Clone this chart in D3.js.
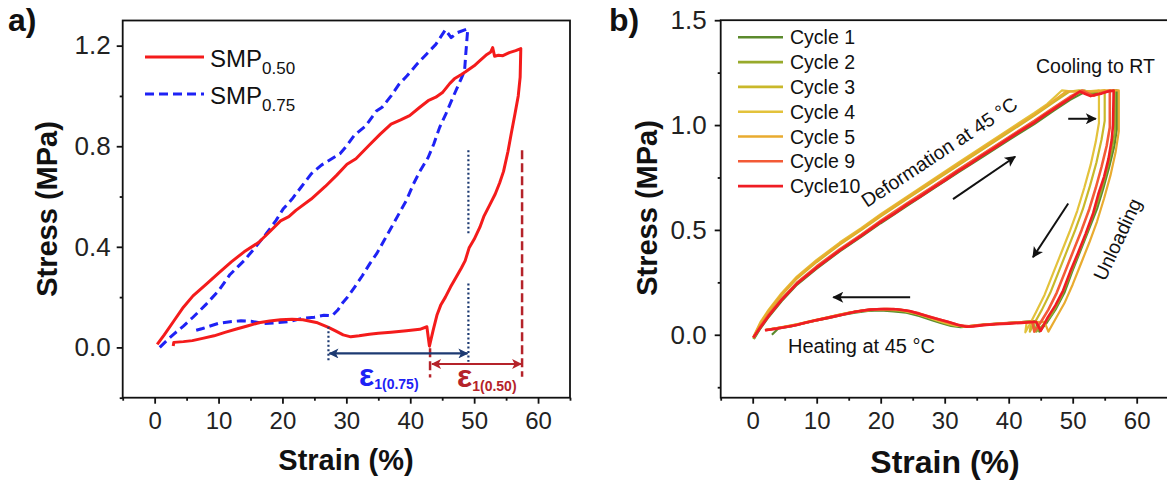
<!DOCTYPE html>
<html>
<head>
<meta charset="utf-8">
<script src="https://cdn.jsdelivr.net/npm/d3@7"></script>
<style>
  body { margin: 0; background: #fff; }
  svg { display: block; font-family: "Liberation Sans", Arial, sans-serif; }
</style>
</head>
<body>
<svg id="chart" width="1167" height="481"></svg>
<script>
// ---- panel a data: strain (%), stress (MPa)
const smp050 = [[0.4,0.012],[1.5,0.05],[3.0,0.105],[4.5,0.16],[6.0,0.205],[8.0,0.25],[10.0,0.295],[12.0,0.34],[14.0,0.38],[16.3,0.418],[18.0,0.46],[19.7,0.503],[21.0,0.52],[22.1,0.545],[24.5,0.59],[26.7,0.64],[28.5,0.685],[30.1,0.728],[31.5,0.75],[33.6,0.805],[35.3,0.848],[37.0,0.888],[38.5,0.905],[39.9,0.922],[41.5,0.955],[42.8,0.981],[44.0,0.995],[45.1,1.015],[46.2,1.05],[46.9,1.068],[48.0,1.085],[48.6,1.095],[50.0,1.12],[50.9,1.14],[52.0,1.165],[52.6,1.175],[52.9,1.192],[53.2,1.158],[53.8,1.162],[54.5,1.16],[55.5,1.172],[56.5,1.18],[57.3,1.188],[57.2,1.075],[56.9,1.0],[56.4,0.93],[55.8,0.85],[55.3,0.78],[54.6,0.70],[54.0,0.655],[53.3,0.61],[52.5,0.57],[51.5,0.52],[50.9,0.478],[50.0,0.43],[49.2,0.395],[48.6,0.345],[48.0,0.316],[47.2,0.28],[46.3,0.24],[45.5,0.20],[44.8,0.17],[44.2,0.13],[43.6,0.07],[43.0,0.005],[42.6,0.082],[41.5,0.072],[39.4,0.066],[37,0.06],[35,0.056],[33.6,0.052],[32,0.046],[30.7,0.042],[29.5,0.05],[28.3,0.066],[27.2,0.08],[25.5,0.098],[23.2,0.11],[21.5,0.112],[19.7,0.11],[18,0.105],[16.3,0.098],[14.5,0.085],[12.8,0.073],[11,0.06],[9.3,0.046],[7.5,0.036],[5.9,0.027],[4.5,0.023],[3.0,0.02],[2.9,0.006]];
const smp075 = [[0.8,0.0],[2.0,0.03],[3.0,0.053],[4.5,0.085],[6.0,0.12],[8.0,0.17],[10.0,0.225],[11.8,0.29],[13.0,0.32],[14.0,0.345],[15.5,0.39],[17.4,0.45],[19.0,0.505],[20.1,0.55],[21.5,0.59],[23.0,0.64],[24.5,0.69],[26.1,0.725],[27.4,0.745],[29.0,0.77],[30.0,0.8],[31.3,0.845],[33.0,0.88],[34.7,0.94],[35.6,0.955],[37.0,1.0],[38.2,1.045],[39.5,1.08],[41.0,1.125],[42.5,1.165],[44.0,1.205],[45.5,1.263],[46.4,1.232],[47.4,1.252],[49.0,1.267],[48.7,1.17],[48.5,1.1],[48.0,1.07],[47.3,1.03],[46.6,0.99],[45.6,0.93],[44.6,0.875],[43.7,0.81],[42.8,0.755],[41.5,0.70],[40.5,0.65],[39.4,0.585],[38.2,0.53],[37.0,0.475],[35.9,0.425],[34.8,0.375],[33.7,0.334],[32.5,0.285],[31.3,0.24],[30.2,0.2],[29.5,0.18],[28.7,0.15],[27.8,0.126],[26.5,0.128],[25.0,0.12],[23.2,0.116],[21.0,0.103],[19.0,0.098],[17.0,0.095],[15.1,0.104],[13.5,0.106],[11.8,0.102],[10.0,0.096],[8.8,0.086],[7.5,0.075],[6.5,0.068]];
// guide lines for the recoverable strain marks: x, y from, y to
const guides075 = [[49.1,0.784,0.453],[49.1,0.254,-0.057],[27.2,0.082,-0.057]];
const guides050 = [[57.5,0.784,-0.117],[43.1,-0.003,-0.12]];
const span075 = [27.2, 49.1, -0.024];
const span050 = [43.1, 57.5, -0.066];

// ---- panel b data: one loop per cycle
const cycleNames = ["Cycle 1","Cycle 2","Cycle 3","Cycle 4","Cycle 5","Cycle 9","Cycle10"];
const cycleColors = ["#5b8a2d","#98aa2b","#c9b82a","#e3c23b","#e9ab2f","#f35a36","#ef1c24"];
const cycle1 = [[0.2,-0.02],[1.2,0.03],[2.5,0.085],[4.5,0.16],[6.9,0.238],[10,0.315],[13.6,0.398],[17,0.468],[20,0.532],[24,0.612],[28,0.692],[32,0.772],[36,0.85],[40,0.928],[44,1.005],[47,1.068],[49.6,1.12],[52,1.16],[53,1.15],[54,1.155],[55.5,1.16],[56.9,1.165],[56.9,0.98],[56.5,0.9],[55.7,0.8],[54.8,0.7],[53.8,0.6],[52.5,0.5],[51.2,0.4],[49.9,0.3],[48.7,0.2],[47.3,0.12],[46,0.06],[44.8,0.015],[44.2,0.065],[42,0.06],[39,0.055],[36,0.048],[34,0.04],[32.5,0.036],[31,0.042],[29.5,0.055],[28,0.07],[26,0.09],[24,0.105],[22,0.112],[20,0.116],[18,0.114],[16,0.105],[14,0.095],[12,0.08],[10,0.068],[8,0.055],[6,0.04],[4,0.03],[3,0.0]];
const cycle2 = [[0.1,-0.02],[1.2,0.038],[2.5,0.092],[4.5,0.168],[6.9,0.246],[10,0.323],[13.6,0.405],[17,0.476],[20,0.54],[24,0.622],[28,0.701],[32,0.782],[36,0.861],[40,0.94],[44,1.018],[47,1.08],[49.6,1.132],[51.8,1.165],[53,1.155],[54.5,1.16],[56.6,1.165],[56.6,0.97],[56.1,0.88],[55.3,0.78],[54.4,0.68],[53.3,0.58],[52.1,0.48],[50.8,0.38],[49.5,0.28],[48.2,0.18],[46.8,0.1],[45.5,0.05],[44.3,0.015],[43.8,0.065],[41,0.058],[38,0.052],[35,0.045],[33.5,0.04],[32,0.042],[30.5,0.05],[29,0.065],[27.5,0.08],[25.5,0.1],[23.5,0.113],[21.5,0.118],[19.5,0.12],[17.5,0.116],[15.5,0.107],[13.5,0.095],[11.5,0.08],[9.5,0.066],[7.5,0.052],[5.5,0.04],[3.5,0.03],[2.2,0.025]];
const cycle3 = [[0.1,-0.015],[1.2,0.05],[2.5,0.11],[4.5,0.188],[6.9,0.268],[10,0.347],[13.6,0.43],[17,0.5],[20,0.565],[24,0.646],[28,0.726],[32,0.806],[36,0.886],[40,0.965],[44,1.045],[47,1.108],[49.5,1.16],[51,1.165],[53,1.16],[55,1.165],[55,1.02],[54.5,0.93],[53.7,0.82],[52.7,0.71],[51.6,0.6],[50.4,0.5],[49.1,0.4],[47.8,0.3],[46.5,0.2],[45.2,0.12],[44.1,0.06],[43.3,0.015],[43.5,0.06],[41,0.058],[38,0.052],[35,0.046],[33.5,0.04],[32,0.043],[30.5,0.055],[29,0.07],[27.5,0.085],[25.5,0.105],[23.5,0.118],[21.5,0.123],[19.5,0.122],[17.5,0.116],[15.5,0.107],[13.5,0.094],[11.5,0.08],[9.5,0.066],[7.5,0.052],[5.5,0.04],[3.5,0.03],[2.0,0.022]];
const cycle4 = [[0.1,-0.01],[1.2,0.06],[2.5,0.12],[4.5,0.198],[6.9,0.278],[10,0.357],[13.6,0.44],[17,0.51],[20,0.575],[24,0.656],[28,0.737],[32,0.818],[36,0.898],[40,0.978],[44,1.058],[46,1.1],[48.3,1.165],[50,1.16],[52,1.16],[54.1,1.165],[54.1,1.01],[53.6,0.92],[52.8,0.81],[51.8,0.7],[50.7,0.59],[49.5,0.49],[48.2,0.39],[46.9,0.29],[45.6,0.19],[44.3,0.11],[43.3,0.05],[42.6,0.012],[42.8,0.058],[40,0.055],[37,0.05],[34.5,0.043],[33,0.04],[31.5,0.046],[30,0.058],[28.5,0.072],[27,0.088],[25,0.106],[23,0.118],[21,0.122],[19,0.12],[17,0.114],[15,0.105],[13,0.092],[11,0.078],[9,0.064],[7,0.05],[5,0.038],[3.5,0.03],[2.0,0.024]];
const cycle5 = [[0.1,-0.012],[1.2,0.055],[2.5,0.115],[4.5,0.193],[6.9,0.273],[10,0.352],[13.6,0.435],[17,0.505],[20,0.57],[24,0.651],[28,0.732],[32,0.812],[36,0.892],[40,0.972],[44,1.05],[47,1.115],[49,1.16],[51,1.16],[53,1.16],[55,1.165],[57.2,1.165],[57.2,0.97],[56.7,0.87],[55.9,0.76],[54.9,0.65],[53.8,0.54],[52.6,0.44],[51.3,0.34],[50,0.24],[48.7,0.15],[47.4,0.08],[46.2,0.015],[45.6,0.062],[43,0.06],[40,0.055],[37,0.05],[34.5,0.042],[33,0.04],[31.5,0.047],[30,0.06],[28.5,0.075],[27,0.09],[25,0.108],[23,0.12],[21,0.124],[19,0.121],[17,0.115],[15,0.106],[13,0.093],[11,0.079],[9,0.065],[7,0.051],[5,0.039],[3.5,0.031],[2.0,0.024]];
const cycle9 = [[0.1,-0.015],[1.2,0.04],[2.5,0.095],[4.5,0.17],[6.9,0.248],[10,0.326],[13.6,0.408],[17,0.478],[20,0.543],[24,0.624],[28,0.703],[32,0.784],[36,0.863],[40,0.942],[44,1.02],[47,1.082],[49.6,1.135],[51.5,1.165],[52.5,1.15],[53.3,1.14],[54.2,1.15],[55.8,1.165],[55.8,0.99],[55.3,0.9],[54.5,0.8],[53.6,0.7],[52.6,0.6],[51.4,0.5],[50.1,0.4],[48.8,0.3],[47.5,0.2],[46.2,0.12],[45,0.06],[44.0,0.015],[43.7,0.062],[41,0.058],[38,0.052],[35.5,0.046],[33.8,0.04],[32.3,0.045],[30.8,0.058],[29.3,0.072],[27.7,0.086],[26,0.102],[24,0.116],[22,0.123],[20,0.123],[18,0.119],[16,0.11],[14,0.097],[12,0.083],[10,0.069],[8,0.055],[6,0.042],[4,0.032],[2.0,0.022]];
const cycle10 = [[0.1,-0.013],[1.2,0.035],[2.5,0.09],[4.5,0.165],[6.9,0.243],[10,0.32],[13.6,0.402],[17,0.472],[20,0.537],[22,0.575],[24,0.618],[26,0.655],[28,0.697],[30,0.735],[32,0.778],[34,0.815],[36,0.857],[38,0.895],[40,0.935],[42,0.975],[44,1.012],[45.5,1.045],[47,1.075],[48.2,1.1],[49.6,1.128],[51.1,1.16],[52,1.148],[52.8,1.138],[53.5,1.145],[54.5,1.15],[55.5,1.16],[56.4,1.165],[56.3,1.0],[56.1,0.93],[55.6,0.84],[54.9,0.753],[54.0,0.67],[53.2,0.58],[52.0,0.48],[50.8,0.388],[49.6,0.3],[48.5,0.211],[47.3,0.14],[46.1,0.083],[45.0,0.019],[44.3,0.062],[42,0.057],[40,0.053],[38,0.05],[36,0.046],[34.5,0.04],[33.4,0.038],[32,0.048],[30.5,0.062],[29,0.074],[27.7,0.085],[26,0.1],[24.5,0.113],[22.5,0.122],[20.5,0.123],[18.3,0.12],[16,0.11],[14,0.096],[12.1,0.083],[10,0.07],[8,0.056],[6.9,0.047],[5,0.036],[3.5,0.028],[1.9,0.022]];
const cycles = [cycle1, cycle2, cycle3, cycle4, cycle5, cycle9, cycle10];
// process arrows: x1, y1, x2, y2 (head at the second point)
const arrowsB = [[31.3,0.647,41.0,0.849],[49.3,1.03,53.6,1.03],[49.3,0.626,43.8,0.37],[24.6,0.179,12.6,0.179]];

// ---- ticks
const xTicks = [0,10,20,30,40,50,60];
const xMinor = [-5,5,15,25,35,45,55,65];
const yTicksA = [0.0,0.4,0.8,1.2];
const yMinorA = [-0.2,0.2,0.6,1.0];
const yTicksB = [0.0,0.5,1.0,1.5];
const yMinorB = [-0.25,0.25,0.75,1.25];

const svg = d3.select('#chart');

const xA = d3.scaleLinear().domain([-5,65]).range([122.7,570]);
const yA = d3.scaleLinear().domain([-0.2,1.3]).range([397.7,20.5]);
const xB = d3.scaleLinear().domain([-5,65]).range([720.7,1168.7]);
const yB = d3.scaleLinear().domain([-0.3,1.5]).range([397.7,20.2]);

// arrow heads
const defs = svg.append('defs');
function head(id, color, w, h) {
    defs.append('marker')
        .attr('id', id)
        .attr('markerUnits', 'userSpaceOnUse')
        .attr('viewBox', '0 0 10 10')
        .attr('refX', 9).attr('refY', 5)
        .attr('markerWidth', w).attr('markerHeight', h)
        .attr('orient', 'auto-start-reverse')
        .append('path')
        .attr('d', 'M0,0 L10,5 L0,10 L2.5,5 Z')
        .attr('fill', color);
}
head('hNavy', '#1d3a72', 11, 10);
head('hRed', '#b5232a', 11, 10);
head('hBlack', '#111', 13, 11);

function drawAxes(g, x, y, yTicks, yMinor, yFont, yPad) {
    let h = y.range()[0], top = y.range()[1], left = x.range()[0], right = x.range()[1];

    g.append('rect')
        .attr('x', left).attr('y', top)
        .attr('width', right - left).attr('height', h - top)
        .attr('fill', 'none').attr('stroke', '#111').attr('stroke-width', 1.8);

    let ax = g.append('g').attr('transform', 'translate(0,' + h + ')')
        .call(d3.axisBottom(x).tickValues(xTicks).tickSize(6).tickPadding(8).tickFormat(d3.format('d')));
    g.append('g').attr('transform', 'translate(0,' + h + ')')
        .call(d3.axisBottom(x).tickValues(xMinor).tickSize(3).tickFormat(''));
    let ay = g.append('g').attr('transform', 'translate(' + left + ',0)')
        .call(d3.axisLeft(y).tickValues(yTicks).tickSize(6).tickPadding(yPad).tickFormat(d3.format('.1f')));
    g.append('g').attr('transform', 'translate(' + left + ',0)')
        .call(d3.axisLeft(y).tickValues(yMinor).tickSize(3).tickFormat(''));

    g.selectAll('.domain').remove();
    g.selectAll('.tick line').attr('stroke', '#111').attr('stroke-width', 1.8);
    ax.selectAll('text').attr('font-size', 24).attr('fill', '#222')
        .attr('font-family', '"Liberation Sans", Arial, sans-serif');
    ay.selectAll('text').attr('font-size', yFont).attr('fill', '#222')
        .attr('font-family', '"Liberation Sans", Arial, sans-serif');
}

// ================= panel a =================
const ga = svg.append('g');
drawAxes(ga, xA, yA, yTicksA, yMinorA, 26, 6);

const lineA = d3.line().x(d => xA(d[0])).y(d => yA(d[1]));

ga.append('path').datum(smp075)
    .attr('d', lineA).attr('fill', 'none')
    .attr('stroke', '#1e22f5').attr('stroke-width', 3)
    .attr('stroke-dasharray', '9,5').attr('stroke-linejoin', 'round');
ga.append('path').datum(smp050)
    .attr('d', lineA).attr('fill', 'none')
    .attr('stroke', '#f41b1b').attr('stroke-width', 3)
    .attr('stroke-linejoin', 'round');

ga.selectAll('.g075').data(guides075).enter().append('line')
    .attr('x1', d => xA(d[0])).attr('x2', d => xA(d[0]))
    .attr('y1', d => yA(d[1])).attr('y2', d => yA(d[2]))
    .attr('stroke', '#1d3a72').attr('stroke-width', 2.2).attr('stroke-dasharray', '2,2.5');
ga.selectAll('.g050').data(guides050).enter().append('line')
    .attr('x1', d => xA(d[0])).attr('x2', d => xA(d[0]))
    .attr('y1', d => yA(d[1])).attr('y2', d => yA(d[2]))
    .attr('stroke', '#b5232a').attr('stroke-width', 2.5).attr('stroke-dasharray', '9,4');

ga.append('line')
    .attr('x1', xA(span075[0]) + 1).attr('x2', xA(span075[1]) - 1)
    .attr('y1', yA(span075[2])).attr('y2', yA(span075[2]))
    .attr('stroke', '#1d3a72').attr('stroke-width', 2.2)
    .attr('marker-start', 'url(#hNavy)').attr('marker-end', 'url(#hNavy)');
ga.append('line')
    .attr('x1', xA(span050[0]) + 2).attr('x2', xA(span050[1]) - 1)
    .attr('y1', yA(span050[2])).attr('y2', yA(span050[2]))
    .attr('stroke', '#b5232a').attr('stroke-width', 2.2)
    .attr('marker-start', 'url(#hRed)').attr('marker-end', 'url(#hRed)');

let e1 = ga.append('text').attr('x', 359).attr('y', 386)
    .attr('fill', '#1e22f5').attr('font-weight', 'bold');
e1.append('tspan').attr('font-size', 32).text('ε');
e1.append('tspan').attr('font-size', 14).attr('dy', 3).text('1(0.75)');
let e2 = ga.append('text').attr('x', 457).attr('y', 387)
    .attr('fill', '#b5232a').attr('font-weight', 'bold');
e2.append('tspan').attr('font-size', 32).text('ε');
e2.append('tspan').attr('font-size', 14).attr('dy', 4).text('1(0.50)');

// legend a
const legA = [{ name: '0.50', color: '#f41b1b', dash: null, y: 57 },
              { name: '0.75', color: '#1e22f5', dash: '9,5', y: 94 }];
legA.forEach(function(d) {
    ga.append('line').attr('x1', 145).attr('x2', 204).attr('y1', d.y).attr('y2', d.y)
        .attr('stroke', d.color).attr('stroke-width', 3).attr('stroke-dasharray', d.dash);
    let t = ga.append('text').attr('x', 210).attr('y', d.y + 9.5).attr('fill', '#111');
    t.append('tspan').attr('font-size', 24).text('SMP');
    t.append('tspan').attr('font-size', 17).attr('dy', 7).text(d.name);
});

ga.append('text').attr('x', 346).attr('y', 470).attr('text-anchor', 'middle')
    .attr('font-size', 29).attr('font-weight', 'bold').attr('fill', '#111').text('Strain (%)');
ga.append('text').attr('transform', 'translate(57,209) rotate(-90)').attr('text-anchor', 'middle')
    .attr('font-size', 29).attr('font-weight', 'bold').attr('fill', '#111').text('Stress (MPa)');
ga.append('text').attr('x', 8).attr('y', 31)
    .attr('font-size', 32).attr('font-weight', 'bold').attr('fill', '#111').text('a)');

// ================= panel b =================
const gb = svg.append('g');
drawAxes(gb, xB, yB, yTicksB, yMinorB, 26, 8);

const lineB = d3.line().x(d => xB(d[0])).y(d => yB(d[1]));
gb.selectAll('.cyc').data(cycles).enter().append('path')
    .attr('d', lineB).attr('fill', 'none')
    .attr('stroke', (d, i) => cycleColors[i])
    .attr('stroke-width', (d, i) => i > 4 ? 2.6 : 2.2)
    .attr('stroke-linejoin', 'round');

cycleNames.forEach(function(n, i) {
    let y = 37.3 + 24.8 * i;
    gb.append('line').attr('x1', 738).attr('x2', 783).attr('y1', y).attr('y2', y)
        .attr('stroke', cycleColors[i]).attr('stroke-width', 2.6);
    gb.append('text').attr('x', 790).attr('y', y + 7).attr('font-size', 19.5)
        .attr('fill', '#111').text(n);
});

gb.selectAll('.arr').data(arrowsB).enter().append('line')
    .attr('x1', d => xB(d[0])).attr('y1', d => yB(d[1]))
    .attr('x2', d => xB(d[2])).attr('y2', d => yB(d[3]))
    .attr('stroke', '#111').attr('stroke-width', 2)
    .attr('marker-end', 'url(#hBlack)');

gb.append('text').attr('x', 1036).attr('y', 73).attr('font-size', 19.5)
    .attr('fill', '#111').text('Cooling to RT');
gb.append('text').attr('transform', 'translate(867,208) rotate(-33.5)').attr('font-size', 19.5)
    .attr('fill', '#111').text('Deformation at 45 °C');
gb.append('text').attr('transform', 'translate(1105,282) rotate(-65)').attr('font-size', 19.5)
    .attr('fill', '#111').text('Unloading');
gb.append('text').attr('x', 788).attr('y', 353).attr('font-size', 20)
    .attr('fill', '#111').text('Heating at 45 °C');

gb.append('text').attr('x', 945).attr('y', 473).attr('text-anchor', 'middle')
    .attr('font-size', 32).attr('font-weight', 'bold').attr('fill', '#111').text('Strain (%)');
gb.append('text').attr('transform', 'translate(657,208) rotate(-90)').attr('text-anchor', 'middle')
    .attr('font-size', 29).attr('font-weight', 'bold').attr('fill', '#111').text('Stress (MPa)');
gb.append('text').attr('x', 609).attr('y', 31)
    .attr('font-size', 32).attr('font-weight', 'bold').attr('fill', '#111').text('b)');
</script>
</body>
</html>
